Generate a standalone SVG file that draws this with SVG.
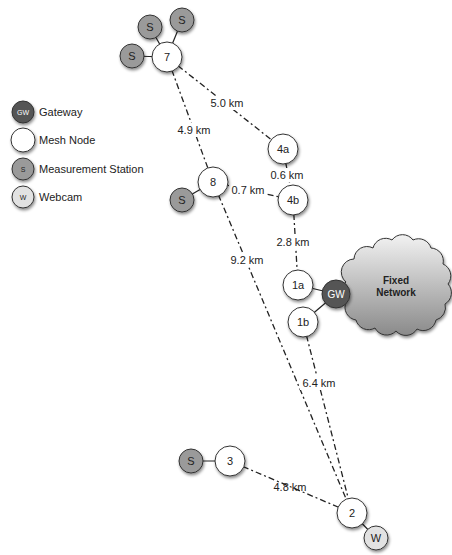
<svg xmlns="http://www.w3.org/2000/svg" width="452" height="555" viewBox="0 0 452 555">
<defs>
<filter id="sh" x="-50%" y="-50%" width="200%" height="200%">
<feDropShadow dx="1" dy="2" stdDeviation="1.6" flood-color="#000" flood-opacity="0.45"/>
</filter>
<linearGradient id="cg" x1="0" y1="0" x2="0" y2="1">
<stop offset="0" stop-color="#f2f2f2"/>
<stop offset="1" stop-color="#8a8a8a"/>
</linearGradient>
<style>
text{font-family:"Liberation Sans",Arial,sans-serif;font-size:11px;fill:#222}
.c{text-anchor:middle;dominant-baseline:central}
.mesh{fill:#fff;stroke:#333;stroke-width:1;filter:url(#sh)}
.st{fill:#9a9a9a;stroke:#333;stroke-width:1;filter:url(#sh)}
.gw{fill:#555;stroke:#333;stroke-width:1;filter:url(#sh)}
.wc{fill:#e2e2e2;stroke:#333;stroke-width:1;filter:url(#sh)}
.dd{stroke:#222;stroke-width:1.3;fill:none;stroke-dasharray:6 3 2 3}
.sl{stroke:#222;stroke-width:1.2;fill:none}
.w{fill:#fff}
.sm{font-size:8px}
.lbl{font-size:11px}
</style>
</defs>
<g id="connectors">
<line class="dd" x1="167" y1="57" x2="283" y2="149"/>
<line class="dd" x1="167" y1="57" x2="213" y2="182"/>
<line class="dd" x1="283" y1="149" x2="293" y2="200"/>
<line class="dd" x1="213" y1="182" x2="293" y2="200"/>
<line class="dd" x1="293" y1="200" x2="298" y2="285"/>
<line class="dd" x1="213" y1="182" x2="352" y2="513"/>
<line class="dd" x1="303" y1="322" x2="352" y2="513"/>
<line class="dd" x1="230" y1="461" x2="352" y2="513"/>
<line class="sl" x1="167" y1="57" x2="132" y2="56"/>
<line class="sl" x1="167" y1="57" x2="150" y2="27"/>
<line class="sl" x1="167" y1="57" x2="182" y2="20"/>
<line class="sl" x1="213" y1="182" x2="182" y2="200"/>
<line class="sl" x1="230" y1="461" x2="191" y2="461"/>
<line class="sl" x1="352" y1="513" x2="376" y2="538"/>
<line class="sl" x1="298" y1="285" x2="336" y2="294"/>
<line class="sl" x1="303" y1="322" x2="336" y2="294"/>
</g>
<g id="labels">
<rect x="207" y="96" width="38" height="14" fill="#fff"/>
<text class="c" x="227" y="103">5.0 km</text>
<rect x="175" y="123" width="38" height="14" fill="#fff"/>
<text class="c" x="194" y="130">4.9 km</text>
<rect x="268" y="168" width="38" height="14" fill="#fff"/>
<text class="c" x="287" y="175">0.6 km</text>
<rect x="229" y="183" width="38" height="14" fill="#fff"/>
<text class="c" x="248" y="190">0.7 km</text>
<rect x="274" y="235" width="38" height="14" fill="#fff"/>
<text class="c" x="293" y="242">2.8 km</text>
<rect x="228" y="253" width="38" height="14" fill="#fff"/>
<text class="c" x="247" y="260">9.2 km</text>
<rect x="300" y="376" width="38" height="14" fill="#fff"/>
<text class="c" x="319" y="383">6.4 km</text>
<text class="c" x="290" y="487">4.8 km</text>
</g>
<g id="cloud">
<path d="M346,282 A13,13 0 0 1 354,259 A13,13 0 0 1 373,248 A13,13 0 0 1 392,240 A13,13 0 0 1 413,240 A13,13 0 0 1 431,248 A13,13 0 0 1 443,264 A13,13 0 0 1 448,284 A13,13 0 0 1 445,304 A13,13 0 0 1 436,320 A13,13 0 0 1 417,329 A13,13 0 0 1 396,331 A13,13 0 0 1 375,328 A13,13 0 0 1 356,320 A13,13 0 0 1 346,302 A13,13 0 0 1 346,282 Z" fill="url(#cg)" stroke="#333" stroke-width="1" filter="url(#sh)"/>
<text class="c" x="396" y="280" font-weight="bold" style="font-weight:bold;font-size:10px">Fixed</text>
<text class="c" x="396" y="292" style="font-weight:bold;font-size:10px">Network</text>
</g>
<g id="n7"><circle class="mesh" cx="167" cy="57" r="15"/><text class="c" x="167" y="57">7</text></g>
<g id="s7a"><circle class="st" cx="132" cy="56" r="12"/><text class="c" x="132" y="56">S</text></g>
<g id="s7b"><circle class="st" cx="150" cy="27" r="12"/><text class="c" x="150" y="27">S</text></g>
<g id="s7c"><circle class="st" cx="182" cy="20" r="12"/><text class="c" x="182" y="20">S</text></g>
<g id="n8"><circle class="mesh" cx="213" cy="182" r="15"/><text class="c" x="213" y="182">8</text></g>
<g id="s8"><circle class="st" cx="182" cy="200" r="12"/><text class="c" x="182" y="200">S</text></g>
<g id="n4a"><circle class="mesh" cx="283" cy="149" r="15"/><text class="c" x="283" y="149">4a</text></g>
<g id="n4b"><circle class="mesh" cx="293" cy="200" r="15"/><text class="c" x="293" y="200">4b</text></g>
<g id="n1a"><circle class="mesh" cx="298" cy="285" r="15"/><text class="c" x="298" y="285">1a</text></g>
<g id="n1b"><circle class="mesh" cx="303" cy="322" r="15"/><text class="c" x="303" y="322">1b</text></g>
<g id="gw"><circle class="gw" cx="336" cy="294" r="14"/><text class="c w" x="336" y="294" style="fill:#fff;font-size:10px">GW</text></g>
<g id="n3"><circle class="mesh" cx="230" cy="461" r="15"/><text class="c" x="230" y="461">3</text></g>
<g id="s3"><circle class="st" cx="191" cy="461" r="12"/><text class="c" x="191" y="461">S</text></g>
<g id="n2"><circle class="mesh" cx="352" cy="513" r="15"/><text class="c" x="352" y="513">2</text></g>
<g id="w2"><circle class="wc" cx="376" cy="538" r="12"/><text class="c" x="376" y="538">W</text></g>
<g id="legend">
<circle class="gw" cx="23" cy="112" r="11"/><text class="c" x="23" y="112" style="fill:#fff;font-size:7px">GW</text>
<text x="39" y="116">Gateway</text>
<circle class="mesh" cx="23" cy="140" r="12"/>
<text x="39" y="144">Mesh Node</text>
<circle class="st" cx="23" cy="169" r="11"/><text class="c" x="23" y="169" style="font-size:7px">S</text>
<text x="39" y="173">Measurement Station</text>
<circle class="wc" cx="23" cy="197" r="11"/><text class="c" x="23" y="197" style="font-size:7px">W</text>
<text x="39" y="201">Webcam</text>
</g>
</svg>
